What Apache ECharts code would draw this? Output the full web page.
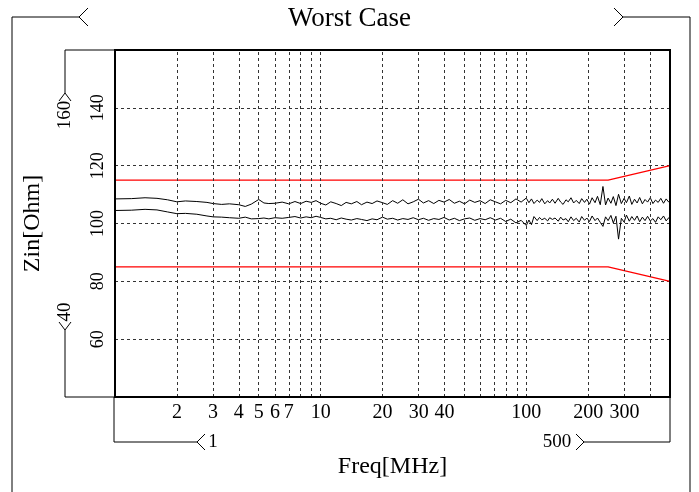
<!DOCTYPE html>
<html>
<head>
<meta charset="utf-8">
<script src="https://cdn.jsdelivr.net/npm/echarts@6/dist/echarts.min.js"></script>
<style>html,body{margin:0;padding:0;background:#fff}#c{width:699px;height:492px}</style>
</head>
<body>
<div id="c"></div>
<script>
// ---- data ----
const freqs = [
  1, 1.2, 1.4, 1.6, 1.8, 2, 2.2, 2.5, 2.8, 3, 3.3, 3.6, 4, 4.3, 4.6, 5, 5.3, 5.6, 6, 6.5, 7, 7.5, 8, 8.5, 9, 9.5,
  10, 10.6, 11.2, 11.9, 12.6, 13.3, 14.1, 15, 15.8, 16.8, 17.8, 18.8, 20, 21.1, 22.4, 23.7, 25.1, 26.6, 28.2, 29.9,
  31.6, 33.5, 35.5, 37.6, 39.8, 42.2, 44.7, 47.3, 50.1, 53.1, 56.2, 59.6, 63.1, 66.8, 70.8, 75, 79.4, 84.1, 89.1, 94.4,
  100, 103, 106, 109, 113, 116, 119, 123, 127, 130, 134, 138, 143, 147, 151, 156, 160, 165, 170, 175,
  181, 186, 192, 197, 203, 209, 216, 222, 229, 236, 243, 250, 258, 265, 273, 281, 290, 299, 307, 317,
  326, 336, 346, 356, 367, 378, 389, 401, 413, 425, 438, 451, 465, 479, 493, 500
];
const upperTrace = [
  108.5, 108.6, 108.9, 108.7, 108.2, 107.5, 107.8, 107.6, 107.3, 106.9, 106.6, 106.8, 106.5, 105.9, 106.7, 108.3, 107.1, 106.9, 107.0, 107.4, 106.8, 107.6, 106.9, 107.7, 107.3, 107.9,
  107.0, 106.4, 107.5, 106.9, 106.2, 107.3, 106.8, 107.6, 106.5, 107.4, 106.9, 107.8, 107.2, 106.6, 107.9, 107.0, 108.2, 106.8, 107.5, 108.4,
  107.1, 107.9, 106.9, 108.0, 107.4, 108.3, 107.0, 107.7, 106.8, 108.1, 107.3, 107.9, 106.9, 108.2, 107.5, 106.8, 108.0, 107.2, 108.5, 107.4,
  108.8, 107.2, 108.5, 106.9, 108.1, 107.3, 108.6, 106.8, 107.9, 107.1, 108.4, 107.0, 108.7, 107.4, 106.6, 108.2, 107.5, 108.9, 107.1, 108.0,
  106.9, 108.6, 107.3, 108.4, 106.7, 108.9, 107.2, 109.4, 106.5, 112.8, 106.4, 108.8, 107.0, 109.3, 106.2, 110.1, 106.9, 108.7, 107.2, 109.5,
  106.6, 108.4, 107.1, 109.0, 106.8, 108.3, 107.4, 108.9, 106.9, 108.1, 107.3, 108.7, 107.0, 108.5, 107.4, 107.9
];
const lowerTrace = [
  104.5, 104.6, 104.9, 104.7, 104.0, 103.4, 103.5, 103.2, 102.6, 102.3, 102.2, 102.0, 101.8, 102.2, 101.6, 101.7, 101.9, 101.6, 102.0, 101.8, 102.1, 102.4, 101.9, 102.3, 102.0, 102.5,
  102.1, 101.6, 101.8, 101.3, 101.9, 101.5, 101.2, 101.7, 101.4, 101.0, 101.6, 101.3, 102.2, 101.5, 101.8, 101.2, 101.7, 101.4, 102.0, 101.3,
  101.8, 101.1, 101.7, 101.4, 102.1, 101.2, 101.8, 101.0, 101.6, 101.9, 101.1, 101.7, 101.3, 102.0, 101.2, 101.8, 100.7, 101.5, 100.2, 101.1,
  99.3, 101.2, 99.6, 102.4, 101.0, 102.1, 101.3, 101.8, 100.9, 102.0, 101.4, 101.9, 100.8, 102.2, 101.2, 101.7, 100.6, 102.3, 101.0, 101.8,
  100.5, 102.4, 101.1, 101.9, 100.7, 102.6, 101.0, 101.9, 100.4, 99.0, 102.3, 101.0, 102.8, 100.2, 102.5, 94.6, 101.8, 100.5, 102.9, 100.8,
  102.4, 101.1, 102.6, 100.6, 102.2, 101.0, 102.5, 100.9, 101.7, 100.4, 102.3, 101.3, 102.6, 100.9, 102.0, 101.4
];
const limitFreqs = [1, 250, 500];
const upperLimit = [115, 115, 120];
const lowerLimit = [85, 85, 80];
const gridFreqs = [2, 3, 4, 5, 6, 7, 8, 9, 10, 20, 30, 40, 50, 60, 70, 80, 90, 100, 200, 300, 400];
const xTickLabels = [2, 3, 4, 5, 6, 7, 10, 20, 30, 40, 100, 200, 300];
const xMin = 1, xMax = 500, yMin = 40, yMax = 160, yStep = 20;
const titleText = 'Worst Case';
const xName = 'Freq[MHz]';
const yName = 'Zin[Ohm]';

// ---- layout ----
const W = 699, H = 492;
const GL = 115, GR = 670, GT = 50, GB = 397;
const FONT = '"Liberation Serif", "DejaVu Serif", serif';

const chart = echarts.init(document.getElementById('c'), null, {renderer: 'canvas'});

function pairs(xs, ys) { return xs.map((x, i) => [x, ys[i]]); }

const dash = [3, 3];
const gridColor = '#333';

const option = {
  animation: false,
  backgroundColor: '#fff',
  title: {
    text: titleText, left: 'center', top: 5, padding: 0,
    textStyle: {fontFamily: FONT, fontSize: 27, fontWeight: 'normal', color: '#000'}
  },
  grid: {
    left: GL, right: W - GR, top: GT, bottom: H - GB,
    show: true, borderColor: '#000', borderWidth: 2, backgroundColor: 'transparent', z: 10
  },
  xAxis: {
    type: 'log', logBase: 10, min: xMin, max: xMax,
    name: xName, nameLocation: 'middle', nameGap: 58,
    nameTextStyle: {fontFamily: FONT, fontSize: 24, color: '#000'},
    axisLine: {show: false}, axisTick: {show: false}, axisLabel: {show: false},
    splitLine: {show: false}
  },
  yAxis: {
    type: 'value', min: yMin, max: yMax, interval: yStep,
    name: yName, nameLocation: 'middle', nameGap: 70,
    nameTextStyle: {fontFamily: FONT, fontSize: 24, color: '#000'},
    axisLine: {show: false}, axisTick: {show: false},
    axisLabel: {
      rotate: 90, margin: 8, fontFamily: FONT, fontSize: 18, color: '#000',
      formatter: v => (v === yMin || v === yMax) ? '' : String(v)
    },
    splitLine: {show: true, lineStyle: {type: dash, color: gridColor, width: 1}}
  },
  series: [
    {
      type: 'line', name: 'grid', data: [], clip: false, silent: true,
      markLine: {
        silent: true, symbol: 'none', animation: false,
        lineStyle: {type: dash, color: gridColor, width: 1},
        label: {position: 'start', distance: 6, fontFamily: FONT, fontSize: 20, color: '#000'},
        emphasis: {disabled: true},
        data: gridFreqs.map(f => [
          {coord: [f, yMin], label: {show: xTickLabels.indexOf(f) >= 0, formatter: String(f)}},
          {coord: [f, yMax]}
        ])
      }
    },
    {
      type: 'line', name: 'upper limit', data: pairs(limitFreqs, upperLimit),
      symbol: 'none', lineStyle: {color: '#ff0000', width: 1.3}, z: 3
    },
    {
      type: 'line', name: 'lower limit', data: pairs(limitFreqs, lowerLimit),
      symbol: 'none', lineStyle: {color: '#ff0000', width: 1.3}, z: 3
    },
    {
      type: 'line', name: 'upper', data: pairs(freqs, upperTrace),
      symbol: 'none', lineStyle: {color: '#000', width: 1}, z: 4
    },
    {
      type: 'line', name: 'lower', data: pairs(freqs, lowerTrace),
      symbol: 'none', lineStyle: {color: '#000', width: 1}, z: 4
    }
  ]
};
chart.setOption(option);

// ---- decorative brackets ----
const stroke = {stroke: '#000', lineWidth: 1, fill: null};
function pl(points) { return {type: 'polyline', shape: {points: points}, style: stroke, silent: true}; }
function txt(x, y, text, rot) {
  return {type: 'text', x: x, y: y, rotation: rot || 0, silent: true,
    style: {text: text, fontFamily: FONT, fontSize: 19, fill: '#000', align: 'center', verticalAlign: 'middle'}};
}
const BX = 65;          // y-bracket x
const BY = 442;         // x-bracket y
const c = 8;            // chevron size
const topY = 17, frameL = 12, frameR = 690;
const graphics = [
  // outer frame
  pl([[79, topY], [frameL, topY], [frameL, H]]),
  pl([[88, topY - 9], [79, topY], [88, topY + 9]]),
  pl([[623, topY], [frameR, topY], [frameR, H]]),
  pl([[614, topY - 9], [623, topY], [614, topY + 9]]),
  // y bracket
  pl([[GL, GT], [BX, GT], [BX, 93]]),
  pl([[BX - 6, 93 + c], [BX, 93], [BX + 6, 93 + c]]),
  txt(BX, 115, String(yMax), Math.PI / 2),
  pl([[GL, GB], [BX, GB], [BX, 330]]),
  pl([[BX - 6, 330 - c], [BX, 330], [BX + 6, 330 - c]]),
  txt(BX, 312, String(yMin), Math.PI / 2),
  // x bracket
  pl([[GL - 1, GB], [GL - 1, BY], [197, BY]]),
  pl([[205, BY - c], [197, BY], [205, BY + c]]),
  txt(213, BY, String(xMin)),
  pl([[GR, GB], [GR, BY], [584, BY]]),
  pl([[576, BY - c], [584, BY], [576, BY + c]]),
  txt(557, BY, String(xMax))
];
chart.setOption({graphic: graphics});
</script>
</body>
</html>
